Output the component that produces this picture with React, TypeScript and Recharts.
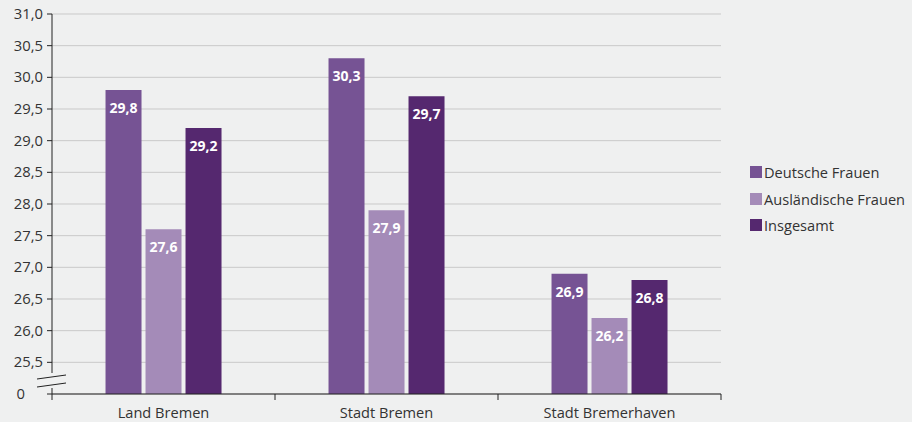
import { Bar, BarChart, CartesianGrid, LabelList, XAxis, YAxis } from "recharts";

const categories = ["Land Bremen", "Stadt Bremen", "Stadt Bremerhaven"];
const deutsche = [29.8, 30.3, 26.9];
const auslaendische = [27.6, 27.9, 26.2];
const insgesamt = [29.2, 29.7, 26.8];
const yTicks = [25, 25.5, 26, 26.5, 27, 27.5, 28, 28.5, 29, 29.5, 30, 30.5, 31];

const series = [
  { key: "deutsche", name: "Deutsche Frauen", color: "#765394" },
  { key: "auslaendische", name: "Ausländische Frauen", color: "#a48bb8" },
  { key: "insgesamt", name: "Insgesamt", color: "#55286f" },
];

const data = categories.map((c, i) => ({
  name: c,
  deutsche: deutsche[i],
  auslaendische: auslaendische[i],
  insgesamt: insgesamt[i],
}));

const fmt = (v: number) => (v === 25 ? "0" : v.toFixed(1).replace(".", ","));

const FONT = "'Open Sans', Lato, sans-serif";
const BAND = (721 - 52) / categories.length;

function XTick(props: any) {
  const { x, y, payload, index } = props;
  const left = x - BAND / 2;
  return (
    <g>
      <line x1={left} x2={left} y1={y - 8} y2={y - 2} stroke="#222" />
      {index === categories.length - 1 && (
        <line x1={x + BAND / 2} x2={x + BAND / 2} y1={y - 8} y2={y - 2} stroke="#222" />
      )}
      <text x={x} y={y + 16} textAnchor="middle" fill="#333" fontSize={14.6} fontFamily={FONT}>
        {payload.value}
      </text>
    </g>
  );
}

function YTick(props: any) {
  const { x, y, payload } = props;
  const isZero = payload.value === 25;
  return (
    <text
      x={isZero ? 25 : x + 1}
      y={y}
      dy={5}
      textAnchor="end"
      fill="#333"
      fontSize={14.8}
      fontFamily={FONT}
    >
      {fmt(payload.value)}
    </text>
  );
}

export default function App() {
  return (
    <div style={{ position: "absolute", left: 0, top: 0, width: 912, height: 422, background: "#eff0f0" }}>
      <BarChart
        width={912}
        height={422}
        data={data}
        margin={{ top: 14, right: 191, bottom: 0, left: 0 }}
        barCategoryGap="24%"
        barGap={4}
      >
        <CartesianGrid vertical={false} stroke="#c9c9c9" />
        <XAxis
          dataKey="name"
          height={28}
          axisLine={{ stroke: "#222" }}
          tickLine={false}
          tick={<XTick />}
          interval={0}
        />
        <YAxis
          width={52}
          domain={[25, 31]}
          ticks={yTicks}
          allowDataOverflow
          interval={0}
          axisLine={{ stroke: "#222" }}
          tickLine={{ stroke: "#222" }}
          tickSize={5}
          tickMargin={5}
          tick={<YTick />}
        />
        {series.map((s) => (
          <Bar key={s.key} dataKey={s.key} name={s.name} fill={s.color} isAnimationActive={false}>
            <LabelList
              dataKey={s.key}
              position="insideTop"
              offset={13}
              formatter={(v: any) => fmt(Number(v))}
              fill="#fff"
              fontSize={14}
              fontWeight={700}
              fontFamily={FONT}
            />
          </Bar>
        ))}
      </BarChart>
      <svg style={{ position: "absolute", left: 0, top: 0 }} width={912} height={422}>
        <rect x={36} y={373} width={32} height={15} fill="#eff0f0" />
        <line x1={37} y1={379} x2={66} y2={375} stroke="#222" />
        <line x1={37} y1={387} x2={66} y2={383} stroke="#222" />
      </svg>
      <div style={{ position: "absolute", left: 750, top: 159, fontFamily: FONT, fontSize: 14.6, color: "#333" }}>
        {series.map((s) => (
          <div key={s.key} style={{ display: "flex", alignItems: "center", height: 26.5 }}>
            <span style={{ width: 12, height: 12, background: s.color, marginRight: 2, display: "inline-block" }} />
            {s.name}
          </div>
        ))}
      </div>
    </div>
  );
}
